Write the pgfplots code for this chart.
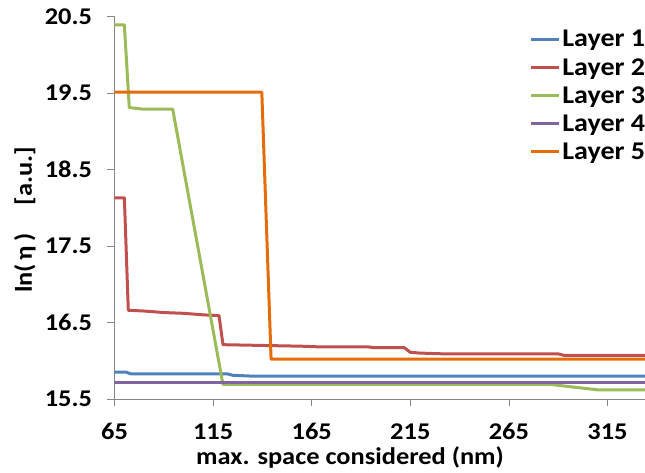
\documentclass[border=0pt]{standalone}
\usepackage{pgfplots}
\pgfplotsset{compat=1.18}
\usepackage{fontspec}
\setmainfont{Carlito}[FakeStretch=1.1]

\definecolor{lay1}{HTML}{4F81BD}
\definecolor{lay2}{HTML}{C0504D}
\definecolor{lay3}{HTML}{9BBB59}
\definecolor{lay4}{HTML}{8064A2}
\definecolor{lay5}{HTML}{E46C0A}
\definecolor{axgray}{HTML}{868686}

\newcommand{\tkfont}{\fontsize{24}{28}\selectfont\bfseries}
\newcommand{\lbfont}{\fontsize{24}{28}\selectfont\bfseries}
\newcommand{\lgfont}{\fontsize{25.5}{30}\selectfont\bfseries}

\begin{document}
\begin{tikzpicture}
\useasboundingbox (-114.5pt,-74pt) rectangle (530.5pt,399pt);
\begin{axis}[
  at={(0,0)}, anchor=south west,
  width=530.5pt, height=382.5pt, scale only axis,
  xmin=65, xmax=334, ymin=15.5, ymax=20.5,
  xtick={65,115,...,315},
  ytick={15.5,16.5,...,20.5},
  yticklabel style={/pgf/number format/fixed, /pgf/number format/precision=1,
    /pgf/number format/fixed zerofill, xshift=-12pt},
  xticklabel style={yshift=-14pt},
  /pgf/number format/assume math mode=true,
  axis x line*=bottom, axis y line*=left,
  axis line style={axgray, line width=0.8pt},
  tick style={axgray, line width=0.8pt},
  tick align=outside, major tick length=7pt,
  ticklabel style={font=\tkfont},
  xlabel={max. space considered (nm)},
  ylabel={\makebox[146pt]{ln(\,η\,)\hfill[a.u.]}},
  every axis x label/.style={at={(axis description cs:0.444,-0.154)}, anchor=center, font=\lbfont},
  every axis y label/.style={at={(axis description cs:-0.169,0.468)}, rotate=90, anchor=center, font=\lbfont},
  legend style={at={(0.776,0.975)}, anchor=north west, draw=none, fill=none,
    font=\lgfont, row sep=6pt},
  legend cell align=left,
  legend image code/.code={\draw[#1] (0pt,0pt) -- (28pt,0pt);},
  ln/.style={line width=3pt, line join=round},
]
\addplot[ln, lay1] coordinates {(65,15.85) (71,15.85) (73,15.83) (122,15.83) (125,15.81) (134,15.80) (334,15.80)};
\addplot[ln, lay2] coordinates {(65,18.13) (70,18.13) (72,16.66) (80,16.65) (90,16.63) (100,16.62) (110,16.60) (118,16.59) (120,16.21) (140,16.20) (160,16.19) (170,16.18) (194,16.18) (197,16.17) (212,16.17) (215,16.11) (220,16.10) (232,16.09) (290,16.09) (293,16.07) (334,16.07)};
\addplot[ln, lay3] coordinates {(65,20.39) (70,20.39) (72.5,19.31) (79,19.29) (94.5,19.29) (120,15.69) (286,15.69) (310,15.62) (334,15.62)};
\addplot[ln, lay4] coordinates {(65,15.71) (334,15.71)};
\addplot[ln, lay5] coordinates {(65,19.51) (139.7,19.51) (144.4,16.02) (334,16.02)};
\legend{Layer 1, Layer 2, Layer 3, Layer 4, Layer 5}
\end{axis}
\end{tikzpicture}
\end{document}
